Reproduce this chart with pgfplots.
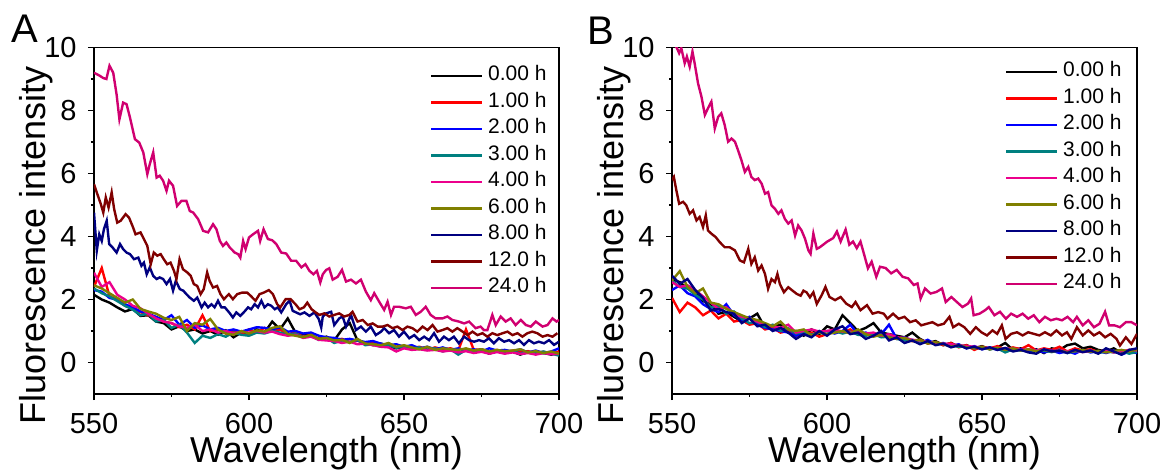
\documentclass[border=0pt]{standalone}
\usepackage{fontspec}
\setmainfont{Liberation Sans}
\usepackage{pgfplots}
\usepackage{pgfplotstable}
\pgfplotsset{compat=1.18}

\definecolor{cteal}{RGB}{0,128,128}
\definecolor{colive}{RGB}{128,128,0}
\definecolor{cnavy}{RGB}{0,0,128}
\definecolor{cmaroon}{RGB}{128,0,0}
\definecolor{cwine}{RGB}{208,0,112}

% low-intensity group, panel A
\pgfplotstableread{
x     h0   h1   h2   h3   h4   h6
550   2.15 2.40 2.30 2.35 2.85 2.45
552.5 2.00 3.00 2.25 2.20 2.40 2.35
555   1.90 2.10 2.05 2.10 2.55 2.20
557.5 1.75 2.00 2.00 1.95 2.15 2.05
560   1.62 1.80 1.85 1.80 2.00 1.90
562.5 1.70 1.72 1.75 1.68 1.80 2.00
565   1.48 1.60 1.62 1.50 1.72 1.70
567.5 1.50 1.50 1.55 1.55 1.55 1.62
570   1.30 1.42 1.45 1.30 1.40 1.55
572.5 1.25 1.30 1.35 1.35 1.30 1.42
575   1.05 1.25 1.50 1.10 1.25 1.35
577.5 1.15 1.12 1.20 1.20 1.15 1.45
580   1.00 1.20 1.35 0.95 1.10 1.00
582.5 1.05 1.05 1.10 0.62 1.20 1.25
585   0.92 1.50 1.18 0.85 1.00 1.20
587.5 1.00 1.00 1.05 0.78 1.05 1.38
590   0.88 1.05 1.10 0.90 0.95 1.05
592.5 1.02 0.92 1.00 0.82 1.00 0.92
595   0.80 1.00 1.05 0.95 0.92 0.88
597.5 0.95 0.90 0.98 0.88 0.98 1.00
600   0.92 1.05 1.05 0.85 0.95 0.92
602.5 1.05 0.95 1.12 0.95 1.00 1.02
605   0.95 1.10 1.10 0.92 0.95 0.98
607.5 1.30 0.98 1.05 1.00 0.98 1.10
610   1.05 1.05 1.12 0.95 0.90 1.15
612.5 1.40 0.90 0.98 0.88 0.85 0.90
615   0.95 0.95 1.00 0.92 0.88 0.85
617.5 0.90 0.82 0.92 0.80 0.78 0.80
620   0.85 0.88 0.95 0.85 0.82 0.88
622.5 0.75 0.75 0.85 0.72 0.72 0.75
625   0.82 0.80 0.80 0.78 0.70 0.78
627.5 0.70 0.72 0.78 0.62 0.68 0.70
630   1.05 0.75 0.72 0.70 0.62 0.72
632.5 1.25 0.65 0.75 0.65 0.66 0.62
635   0.70 0.70 0.70 0.72 0.58 0.75
637.5 0.62 0.58 0.65 0.55 0.60 0.60
640   0.55 0.62 0.68 0.58 0.55 0.58
642.5 0.60 0.52 0.60 0.50 0.50 0.55
645   0.52 0.58 0.55 0.55 0.48 0.62
647.5 0.45 0.48 0.58 0.47 0.35 0.50
650   0.50 0.52 0.50 0.50 0.45 0.55
652.5 0.42 0.45 0.55 0.44 0.40 0.48
655   0.48 0.50 0.45 0.48 0.42 0.42
657.5 0.40 0.40 0.50 0.40 0.38 0.50
660   0.45 0.48 0.42 0.45 0.40 0.40
662.5 0.38 0.42 0.48 0.35 0.35 0.45
665   0.42 0.45 0.40 0.42 0.38 0.42
667.5 0.30 0.38 0.45 0.25 0.32 0.40
670   0.40 1.05 0.38 0.40 0.36 0.45
672.5 0.35 0.40 0.42 0.36 0.30 0.38
675   0.38 0.42 0.35 0.42 0.34 0.42
677.5 0.28 0.35 0.45 0.33 0.28 0.35
680   0.36 0.40 0.38 0.38 0.33 0.40
682.5 0.30 0.32 0.40 0.30 0.28 0.36
685   0.35 0.38 0.35 0.36 0.32 0.38
687.5 0.25 0.33 0.42 0.28 0.27 0.42
690   0.33 0.36 0.32 0.33 0.30 0.32
692.5 0.28 0.30 0.38 0.30 0.25 0.36
695   0.30 0.34 0.30 0.35 0.30 0.30
697.5 0.25 0.28 0.35 0.28 0.26 0.35
700   0.30 0.35 0.45 0.22 0.28 0.28
}\lowA

% low-intensity group, panel B
\pgfplotstableread{
x     h0   h1   h2   h3   h4   h6   h8
550   2.65 2.05 2.30 2.60 2.55 2.60 2.75
552.5 2.55 1.60 2.45 2.40 2.40 2.90 2.50
555   2.35 1.90 2.20 2.35 2.45 2.40 2.65
557.5 2.25 1.75 2.10 2.15 2.30 2.20 2.30
560   1.95 1.50 1.85 2.00 2.10 2.35 2.05
562.5 1.85 1.65 1.70 1.75 1.90 1.90 1.65
565   1.55 1.40 1.60 1.80 1.70 1.85 1.70
567.5 1.60 1.55 1.85 1.55 1.75 1.70 1.60
570   1.45 1.30 1.50 1.62 1.55 1.60 1.55
572.5 1.30 1.35 1.35 1.40 1.45 1.50 1.25
575   1.40 1.20 1.45 1.25 1.40 1.40 1.40
577.5 1.55 1.25 1.20 1.30 1.30 1.35 1.15
580   1.10 1.05 1.10 1.12 1.20 1.25 1.20
582.5 1.15 1.10 1.05 1.20 1.15 1.15 1.00
585   1.20 0.95 1.00 1.00 1.10 1.30 1.10
587.5 0.95 1.00 0.95 1.08 1.20 1.05 0.95
590   1.00 0.85 0.85 0.92 0.95 1.00 0.75
592.5 0.85 0.90 0.95 0.98 1.00 1.05 0.90
595   1.05 0.95 0.85 0.88 1.05 0.85 0.80
597.5 0.90 0.82 0.95 0.95 0.98 0.95 1.00
600   1.15 0.90 1.00 0.90 1.00 0.90 0.85
602.5 1.05 1.00 0.92 1.00 1.05 0.95 1.05
605   1.50 0.95 1.00 0.92 0.98 1.00 1.15
607.5 1.25 1.05 1.20 0.98 0.95 0.92 0.90
610   1.00 0.88 0.90 0.88 1.00 1.05 0.95
612.5 1.10 0.92 0.95 0.85 0.92 0.90 0.75
615   1.25 0.85 0.85 0.90 0.95 0.82 0.85
617.5 0.95 0.90 0.90 0.80 0.85 0.88 1.00
620   0.90 0.78 1.20 0.82 0.90 0.80 0.70
622.5 0.85 0.80 0.75 0.75 0.80 0.75 0.80
625   0.80 0.72 0.80 0.70 0.78 0.78 0.62
627.5 0.95 0.68 0.70 0.72 0.72 0.68 0.70
630   0.75 0.72 0.62 0.62 0.70 0.72 0.58
632.5 0.62 0.60 0.72 0.66 0.65 0.60 0.68
635   0.68 0.65 0.58 0.58 0.62 0.65 0.55
637.5 0.55 0.55 0.62 0.60 0.60 0.58 0.60
640   0.62 0.62 0.52 0.55 0.58 0.50 0.48
642.5 0.50 0.48 0.58 0.50 0.55 0.55 0.55
645   0.55 0.55 0.45 0.52 0.52 0.48 0.45
647.5 0.45 0.40 0.52 0.45 0.50 0.45 0.50
650   0.52 0.50 0.42 0.48 0.48 0.50 0.42
652.5 0.42 0.45 0.48 0.42 0.45 0.42 0.48
655   0.48 0.52 0.40 0.45 0.47 0.47 0.40
657.5 0.62 0.40 0.46 0.32 0.42 0.40 0.46
660   0.40 0.48 0.38 0.42 0.45 0.45 0.35
662.5 0.45 0.42 0.42 0.38 0.40 0.38 0.40
665   0.35 0.55 0.36 0.40 0.42 0.42 0.32
667.5 0.42 0.38 0.40 0.36 0.38 0.36 0.28
670   0.30 0.45 0.32 0.38 0.42 0.40 0.42
672.5 0.45 0.40 0.38 0.33 0.36 0.35 0.35
675   0.40 0.50 0.30 0.40 0.40 0.38 0.38
677.5 0.55 0.35 0.36 0.30 0.35 0.33 0.30
680   0.60 0.45 0.28 0.36 0.38 0.36 0.40
682.5 0.45 0.38 0.40 0.34 0.33 0.40 0.33
685   0.50 0.42 0.32 0.38 0.37 0.34 0.38
687.5 0.40 0.33 0.36 0.30 0.35 0.37 0.28
690   0.35 0.40 0.30 0.35 0.38 0.32 0.45
692.5 0.45 0.35 0.38 0.32 0.32 0.36 0.35
695   0.30 0.38 0.25 0.36 0.36 0.40 0.25
697.5 0.40 0.30 0.35 0.28 0.40 0.35 0.40
700   0.38 0.36 0.30 0.34 0.38 0.42 0.45
}\lowB

\pgfplotsset{
  panel/.style={
    width=232.5pt, height=173.25pt, scale only axis,
    anchor=south west, clip mode=individual,
    xmin=550, xmax=700, ymin=-1, ymax=10,
    xtick={550,600,650,700}, ytick={0,2,...,10},
    minor x tick num=1, minor y tick num=1,
    tick align=outside, xtick pos=left, ytick pos=left,
    major tick length=3pt, minor tick length=1.5pt,
    tick style={black, line width=0.9pt},
    axis line style={line width=0.9pt},
    /pgf/number format/assume math mode=true,
    tick label style={font=\fontsize{14.5}{14.5}\selectfont},
    xticklabel style={anchor=base, inner sep=0pt, yshift=-16.5pt},
    yticklabel style={anchor=east, inner sep=0pt, xshift=-5.5pt},
    xlabel={Wavelength (nm)},
    ylabel={Fluorescence intensity},
    label style={font=\fontsize{18}{18}\selectfont},
    xlabel style={at={(axis description cs:0.5,-0.198)}, anchor=base, inner sep=0pt},
    ylabel style={at={(axis description cs:-0.104,0.429)}, anchor=base, rotate=0, inner sep=0pt},
    no markers,
    every axis plot/.append style={line width=1.2pt},
    legend cell align=left,
    legend image code/.code={\draw[#1] (0pt,0pt) -- (25.5pt,0pt); \path (28pt,0pt);},
    legend style={draw=none, fill=none, inner sep=0pt, row sep=3.25pt,
      font=\fontsize{10.5}{10.5}\selectfont,
      nodes={inner sep=0pt, text height=0.75em, text depth=0.25em}},
    legend entries={0.00 h,1.00 h,2.00 h,3.00 h,4.00 h,6.00 h,8.00 h,12.0 h,24.0 h},
  }
}

\begin{document}
\begin{tikzpicture}
\begin{axis}[panel, at={(0pt,0pt)},
  legend style={at={(rel axis cs:1,1)}, anchor=north east, xshift=-6pt, yshift=-9pt}]
\addplot[black]   table[x=x,y=h0] {\lowA};
\addplot[red]     table[x=x,y=h1] {\lowA};
\addplot[blue]    table[x=x,y=h2] {\lowA};
\addplot[cteal]   table[x=x,y=h3] {\lowA};
\addplot[magenta] table[x=x,y=h4] {\lowA};
\addplot[colive]  table[x=x,y=h6] {\lowA};
\addplot[cnavy] coordinates {(550,4.76) (550.9,3.55) (551.7,4.07) (552.5,3.86) (553.2,4.23) (554.1,4.50) (554.9,3.76) (556,3.65) (557.3,3.49) (558.4,3.76) (559.4,3.60) (560.5,3.49) (561.6,3.44) (562.9,3.28) (564.3,3.33) (565.3,3.07) (566.1,3.17) (567,2.80) (568,3.02) (569.1,2.75) (570.2,2.65) (571.2,2.70) (572.3,2.65) (573.4,2.49) (574.5,2.65) (575.5,2.28) (576.4,2.59) (577.7,2.33) (578.8,2.28) (579.8,2.17) (580.9,2.06) (582.2,1.96) (583.3,2.06) (584.7,1.75) (585.7,1.90) (586.8,1.75) (587.9,1.85) (588.9,1.75) (590,1.96) (591.1,1.75) (592.2,1.75) (593.6,1.59) (594.8,1.43) (595.9,1.59) (597.2,1.48) (598.3,1.59) (599.7,1.75) (600.7,1.69) (601.8,1.85) (602.9,1.75) (604,1.96) (605,1.75) (606.1,1.85) (607.2,1.80) (608.3,1.69) (609.3,1.75) (610.4,1.59) (612,1.85) (613.1,1.96) (614.1,1.64) (615.2,1.59) (616.5,1.53) (617.9,1.59) (619.5,1.48) (621.1,1.59) (622.5,1.38) (623.3,1.11) (623.8,1.46) (624.9,1.56) (626.5,1.61) (627.5,1.19) (629.1,1.40) (630.2,1.46) (631.3,1.14) (632.9,1.51) (634.5,1.03) (636.1,1.14) (637.7,0.98) (639.3,1.14) (640.9,0.87) (642.6,0.98) (643.6,1.09) (645.2,0.93) (646.8,1.03) (648.4,0.82) (650,0.98) (651.7,0.77) (653.3,0.87) (654.9,0.71) (656.5,0.82) (658.1,0.71) (659.7,0.93) (661.3,0.66) (662.9,0.82) (664.5,0.71) (666.1,0.82) (667.7,0.61) (669.4,0.82) (671,0.71) (672.6,0.66) (674.2,0.71) (675.8,0.66) (677.4,0.77) (679,0.61) (680.6,0.77) (682.3,0.66) (683.9,0.71) (685.5,0.61) (687.1,0.71) (688.7,0.56) (690.3,0.71) (691.9,0.61) (693.5,0.66) (695.2,0.61) (696.8,0.71) (698.4,0.56) (700,0.66)};
\addplot[cmaroon] coordinates {(550,5.66) (551.1,5.34) (552.2,5.03) (553,4.76) (553.8,5.24) (554.7,4.92) (555.7,5.40) (556.5,4.87) (557.5,4.44) (558.6,4.50) (560.2,4.71) (561.3,4.60) (562.6,4.29) (563.4,4.07) (565,4.13) (566.1,3.92) (567.2,3.70) (568.3,3.12) (569.3,3.49) (570.4,3.39) (571.5,3.44) (572.5,3.28) (573.6,3.12) (574.7,3.17) (575.8,2.91) (576.6,2.65) (577.6,3.28) (578.7,2.96) (580.1,2.86) (581.2,2.75) (582.2,2.49) (583.3,2.43) (584.4,2.17) (585.4,2.33) (586.5,2.86) (587.3,2.59) (588.4,2.38) (589.7,2.43) (590.8,2.17) (591.9,2.01) (593.5,2.17) (594.8,2.01) (596.2,2.17) (597.8,2.22) (599.4,2.22) (600.5,2.12) (602.1,1.96) (603.4,2.17) (604.8,2.22) (606.4,2.30) (607.7,2.17) (609.1,1.85) (610.1,1.75) (611.8,2.01) (613.4,2.01) (615,1.85) (616.3,1.69) (617.7,1.75) (618.8,1.90) (620.2,1.69) (621.5,1.59) (622.7,1.51) (624.3,1.56) (625.9,1.46) (627.5,1.51) (629.1,1.56) (630.7,1.46) (632.4,1.51) (633.4,1.61) (635,1.30) (636.7,1.35) (638.3,1.19) (639.9,1.24) (641.5,1.14) (643.1,1.14) (644.7,1.19) (646.3,1.09) (647.9,1.14) (649.5,1.03) (651.1,1.14) (652.7,1.09) (654.3,0.98) (656,1.14) (657.6,1.03) (659.2,1.19) (660.8,0.98) (662.4,1.03) (664,1.09) (665.6,0.98) (667.2,1.09) (668.9,0.98) (670.5,0.87) (672.1,0.98) (673.7,0.87) (675.3,0.93) (676.9,0.82) (678.5,0.93) (680.1,0.87) (681.8,0.93) (683.4,0.98) (685,0.87) (686.6,0.93) (688.2,0.82) (689.8,0.93) (691.4,0.98) (693,0.93) (694.7,0.82) (696.3,0.87) (697.9,0.82) (699.5,0.93)};
\addplot[cwine] coordinates {(550,9.20) (551.9,9.10) (553,9.03) (554,9.00) (555,9.42) (556.2,9.20) (557.3,8.50) (558.2,7.72) (559.4,8.25) (560.5,8.20) (561.6,7.78) (563.2,7.09) (564.6,6.98) (565.9,6.67) (566.4,6.40) (567.2,5.98) (568,6.30) (569.1,6.67) (570.2,5.87) (571.2,5.93) (572.3,5.77) (573.4,5.45) (574.2,5.77) (575.5,5.61) (576.8,4.97) (578.2,5.13) (579.8,5.13) (580.9,4.81) (582,4.76) (583.6,4.55) (585.2,4.18) (586.8,4.13) (588.4,4.39) (589.5,4.23) (590.6,3.86) (591.6,3.70) (592.7,3.81) (593.8,3.65) (595.4,3.49) (596.5,3.44) (597.2,3.33) (598.1,3.86) (598.9,3.60) (600,3.97) (601.3,4.07) (602.9,4.18) (603.6,3.86) (604.7,4.23) (606.1,3.92) (607.5,3.88) (608.8,3.76) (610.4,3.49) (612,3.46) (613.6,3.23) (615.2,3.23) (616.9,3.02) (618.2,3.12) (619.5,2.91) (620.8,2.80) (621.9,2.91) (623,2.54) (623.8,2.80) (624.9,2.94) (625.9,2.99) (627,2.63) (628.6,2.72) (630,2.94) (631.3,2.57) (632.9,2.63) (634.5,2.51) (636.1,2.63) (637.7,2.25) (639.3,1.98) (640.4,2.20) (642,1.93) (643.6,1.67) (644.7,1.93) (645.8,1.51) (646.8,1.77) (648.4,1.77) (650.6,1.72) (652.2,1.77) (653.8,1.51) (655.4,1.61) (657,1.77) (658.6,1.51) (660.2,1.40) (662.4,1.40) (664,1.46) (665.6,1.35) (667.7,1.30) (669.4,1.24) (671,1.30) (673.1,1.09) (674.7,1.14) (675.8,1.03) (676.9,1.03) (678.5,1.51) (679.6,1.19) (681.2,1.46) (682.8,1.30) (684.4,1.40) (686,1.19) (687.7,1.35) (689.3,1.19) (690.9,1.14) (692.5,1.30) (694.7,1.14) (696.3,1.19) (697.9,1.40) (699.2,1.30) (700,1.35)};
\node[font=\fontsize{20}{20}\selectfont, inner sep=0pt] at ([xshift=-34.5pt, yshift=9.25pt]rel axis cs:0,1) {A};
\end{axis}

\begin{axis}[panel, at={(289pt,0pt)},
  legend style={at={(rel axis cs:1,1)}, anchor=north east, xshift=-7.5pt, yshift=-7pt}]
\addplot[black]   table[x=x,y=h0] {\lowB};
\addplot[red]     table[x=x,y=h1] {\lowB};
\addplot[blue]    table[x=x,y=h2] {\lowB};
\addplot[cteal]   table[x=x,y=h3] {\lowB};
\addplot[magenta] table[x=x,y=h4] {\lowB};
\addplot[colive]  table[x=x,y=h6] {\lowB};
\addplot[cnavy]   table[x=x,y=h8] {\lowB};
\addplot[cmaroon] coordinates {(550,5.79) (550.6,5.89) (551.4,5.47) (552.3,5.04) (553.6,5.10) (554.6,4.99) (555.7,4.72) (556.8,4.83) (557.9,4.51) (558.9,4.62) (560,4.30) (560.9,4.67) (561.6,4.19) (562.7,4.09) (564.1,3.98) (565.4,3.82) (567,3.66) (568.6,3.66) (570.3,3.56) (571.9,3.24) (573.2,3.18) (574.6,3.61) (575.6,3.13) (576.7,3.34) (577.8,2.92) (578.9,3.08) (580,2.81) (581,2.34) (582.1,2.65) (583.2,2.55) (584,2.81) (584.8,2.49) (586.1,2.23) (587.5,2.39) (588.9,2.28) (590.2,2.18) (591.5,2.12) (592.4,2.28) (593.4,2.23) (594.5,2.07) (595.6,2.23) (596.7,1.86) (598.3,2.14) (599.5,2.40) (600.8,2.08) (602.6,1.98) (604.4,2.08) (606.2,1.87) (608,1.76) (609.2,1.92) (610.8,1.66) (612.9,1.82) (614.7,1.55) (616.5,1.60) (618.3,1.55) (619.5,1.39) (621.3,1.55) (623.1,1.39) (625,1.45) (626.8,1.28) (628.6,1.34) (630.4,1.18) (632.2,1.23) (634,1.28) (635.8,1.18) (637.7,1.23) (639.5,1.45) (640.7,1.12) (642.5,1.23) (644.3,1.12) (646.2,0.91) (648,1.12) (649.8,0.96) (651.6,0.86) (653.4,1.02) (654.9,0.91) (656.4,1.18) (657.6,0.75) (659.4,0.91) (661.3,0.96) (663.1,0.86) (664.9,0.96) (666.7,0.91) (668.5,0.86) (670.3,0.96) (672.2,0.86) (674,1.02) (675.8,0.86) (677.4,0.96) (678.8,0.75) (680.6,1.12) (682.5,0.86) (684.3,1.02) (686.1,0.86) (687.9,0.96) (689.7,0.80) (691.5,0.91) (693.4,0.75) (694.5,0.54) (696.4,0.80) (698.2,0.59) (700,0.91)};
\addplot[cwine] coordinates {(550,10.20) (551.6,9.98) (552.3,9.82) (553,9.98) (554.1,9.50) (554.8,9.71) (555.7,9.39) (556.6,9.87) (557.3,9.50) (558.4,8.86) (559.5,8.44) (560.6,7.86) (561.6,8.07) (562.7,8.28) (563.8,7.43) (564.9,7.80) (565.9,7.91) (567,7.54) (568.1,7.01) (569.2,7.11) (570.3,7.01) (571.3,6.74) (572.4,6.42) (573.5,6.05) (574.6,6.21) (575.6,5.89) (576.7,5.79) (577.8,5.84) (578.9,5.68) (580,5.36) (581,5.41) (582.1,4.99) (583.2,4.88) (584.3,4.72) (585.3,4.83) (586.4,4.56) (587.5,4.41) (588.6,4.51) (589.7,4.03) (590.7,4.35) (591.8,4.19) (592.9,3.93) (594,3.56) (594.7,3.45) (595.6,4.09) (596.7,3.61) (597.7,3.66) (600.1,3.84) (602,3.95) (603.2,4.16) (604.4,3.84) (606,4.22) (607.2,3.74) (608.4,3.84) (609.6,3.63) (610.8,3.84) (612,3.42) (613.2,2.99) (614.4,3.20) (615.9,2.72) (617.1,3.04) (618.9,3.00) (620.7,2.83) (622.5,2.94) (624.4,2.72) (626.2,2.67) (628,2.46) (629.2,2.51) (630.2,2.03) (631.6,2.35) (633.4,2.19) (635.3,2.24) (637.1,2.35) (638.3,1.92) (640.1,2.08) (641.9,1.92) (643.7,1.76) (645.5,1.87) (646.5,2.03) (647.3,1.50) (649.2,1.55) (651,1.66) (652.2,1.76) (654,1.50) (655.8,1.61) (657.7,1.39) (659.4,1.55) (661.3,1.45) (663.1,1.55) (664.9,1.39) (666.7,1.50) (668.5,1.28) (670.3,1.45) (672.2,1.34) (674,1.39) (675.8,1.34) (677.6,1.45) (679.4,1.28) (680.6,1.45) (682.5,1.18) (684.3,1.34) (686.1,1.12) (687.9,1.23) (689.7,1.61) (691,1.18) (692.7,1.18) (694.5,1.12) (696.4,1.28) (698.2,1.28) (700,1.18)};
\node[font=\fontsize{20}{20}\selectfont, inner sep=0pt] at ([xshift=-35.5pt, yshift=8.5pt]rel axis cs:0,1) {B};
\end{axis}
\pgfresetboundingbox
\path[use as bounding box] (-47pt,-39pt) rectangle (536.5pt,197pt);
\end{tikzpicture}
\end{document}
